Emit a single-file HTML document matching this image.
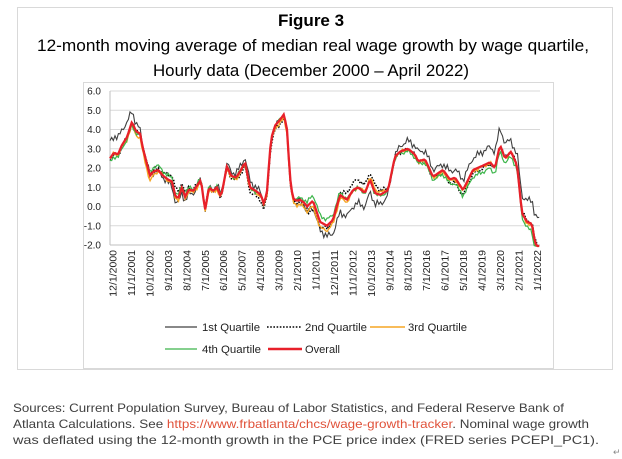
<!DOCTYPE html>
<html><head><meta charset="utf-8"><style>
body{margin:0;background:#fff;}
svg{display:block;font-family:"Liberation Sans",sans-serif;}
</style></head><body>
<svg id="s" width="622" height="459" xmlns="http://www.w3.org/2000/svg">
<rect x="17.5" y="7.5" width="595" height="362" fill="#fff" stroke="#d9d9d9"/>
<rect x="83.5" y="82.5" width="470" height="286" fill="#fff" stroke="#d9d9d9"/>
<text x="311" y="26" text-anchor="middle" font-size="17" font-weight="bold" fill="#000">Figure 3</text>
<text x="313" y="51" text-anchor="middle" font-size="17" textLength="552" lengthAdjust="spacingAndGlyphs" fill="#000">12-month moving average of median real wage growth by wage quartile,</text>
<text x="311" y="76" text-anchor="middle" font-size="17" textLength="316" lengthAdjust="spacingAndGlyphs" fill="#000">Hourly data (December 2000 – April 2022)</text>
<g id="grid"></g>
<g id="series"></g>
<g font-size="11" fill="#222">
<line x1="165" y1="327" x2="197" y2="327" stroke="#404040" stroke-width="1.2"/>
<text x="202" y="331" textLength="58" lengthAdjust="spacingAndGlyphs">1st Quartile</text>
<line x1="267" y1="327" x2="302" y2="327" stroke="#000" stroke-width="1.6" stroke-dasharray="1.6 1.6"/>
<text x="305" y="331" textLength="62" lengthAdjust="spacingAndGlyphs">2nd Quartile</text>
<line x1="370" y1="327" x2="405" y2="327" stroke="#f5a623" stroke-width="1.6"/>
<text x="408" y="331" textLength="59" lengthAdjust="spacingAndGlyphs">3rd Quartile</text>
<line x1="165" y1="349" x2="197" y2="349" stroke="#3cb54a" stroke-width="1.2"/>
<text x="202" y="353" textLength="59" lengthAdjust="spacingAndGlyphs">4th Quartile</text>
<line x1="268" y1="349" x2="302" y2="349" stroke="#e8202a" stroke-width="2.5"/>
<text x="305" y="353" textLength="35" lengthAdjust="spacingAndGlyphs">Overall</text>
</g>
<g font-size="12" fill="#404040">
<text x="13" y="412" textLength="551" lengthAdjust="spacingAndGlyphs">Sources: Current Population Survey, Bureau of Labor Statistics, and Federal Reserve Bank of</text>
<text x="13" y="428" textLength="576" lengthAdjust="spacingAndGlyphs">Atlanta Calculations. See <tspan fill="#e0523a">https://www.frbatlanta/chcs/wage-growth-tracker</tspan>. Nominal wage growth</text>
<text x="13" y="444" textLength="586" lengthAdjust="spacingAndGlyphs">was deflated using the 12-month growth in the PCE price index (FRED series PCEPI_PC1).</text>
<text x="613" y="455" font-size="9" fill="#888">↵</text>
</g>
</svg>
<script>
const NS="http://www.w3.org/2000/svg";
const X0=110,X1=540,Y=v=>245-(v+2)*19.25;
const g=document.getElementById('grid'),S=document.getElementById('series');
function el(t,a,p,txt){const e=document.createElementNS(NS,t);for(const k in a)e.setAttribute(k,a[k]);if(txt)e.textContent=txt;p.appendChild(e);return e;}
for(let v=-2;v<=6;v++){el('line',{x1:X0,x2:X1,y1:Y(v),y2:Y(v),stroke:v==-2?'#bfbfbf':'#d9d9d9','stroke-width':1},g);
 el('text',{x:101,y:Y(v)+3.5,'text-anchor':'end','font-size':10,fill:'#222'},g,v.toFixed(1));}
el('line',{x1:X0,x2:X0,y1:Y(6),y2:Y(-2),stroke:'#bfbfbf'},g);
const labs=["12/1/2000","11/1/2001","10/1/2002","9/1/2003","8/1/2004","7/1/2005","6/1/2006","5/1/2007","4/1/2008","3/1/2009","2/1/2010","1/1/2011","12/1/2011","11/1/2012","10/1/2013","9/1/2014","8/1/2015","7/1/2016","6/1/2017","5/1/2018","4/1/2019","3/1/2020","2/1/2021","1/1/2022"];
labs.forEach((l,i)=>{const x=113+i*18.45;el('text',{x:0,y:0,transform:`translate(${x+3.5},250) rotate(-90)`,'text-anchor':'end','font-size':10.5,fill:'#222'},g,l);});
const R=[[110,2.5],[114,2.8],[118,2.7],[122,3.2],[127,3.6],[132,4.4],[136,3.9],[140,3.8],[143,3.0],[146,2.4],[150,1.6],[153,1.8],[158,1.9],[163,1.6],[168,1.4],[172,1.3],[175,0.6],[178,0.4],[182,1.0],[185,0.5],[189,0.9],[193,0.8],[196,1.0],[201,1.4],[205,-0.2],[209,1.0],[213,0.8],[217,1.0],[221,0.5],[227,2.1],[231,1.6],[236,1.5],[241,1.9],[245,2.3],[250,1.0],[256,0.8],[261,0.6],[264,0.1],[267,0.8],[271,3.5],[275,4.2],[280,4.5],[284,4.8],[287,4.0],[290,1.5],[293,0.4],[297,0.3],[300,0.35],[304,0.2],[307,0.0],[313,0.3],[320,-0.8],[327,-1.0],[333,-0.7],[340,0.6],[347,0.35],[353,0.85],[358,1.0],[365,0.7],[370,1.4],[375,0.7],[380,0.6],[388,0.85],[395,2.6],[400,2.85],[408,3.0],[415,2.7],[418,2.35],[425,2.45],[433,1.55],[443,1.9],[450,1.4],[455,1.5],[463,0.85],[473,1.9],[482,2.1],[490,2.3],[495,2.0],[500,3.2],[505,2.5],[511,2.85],[517,2.15],[522,-0.35],[527,-0.8],[532,-0.9],[535,-1.9],[540,-2.3]];
function interp(P,x){for(let i=1;i<P.length;i++){if(x<=P[i][0]){const a=P[i-1],b=P[i];return a[1]+(b[1]-a[1])*(x-a[0])/(b[0]-a[0]);}}return P[P.length-1][1];}
const offB=[[110,0.9],[124,0.8],[132,0.6],[140,0.2],[150,0],[165,-0.1],[175,-0.3],[190,-0.2],[200,0],[250,0.3],[262,0.1],[270,0],[300,0],[310,-0.3],[325,-0.5],[340,-0.9],[360,-0.8],[385,-0.4],[395,0.1],[405,0.4],[420,0.5],[440,0.3],[470,0.6],[490,0.8],[500,0.9],[515,0.5],[522,0.9],[530,1.2],[540,1.6]];
const offG=[[110,-0.2],[140,-0.1],[155,0.25],[170,0.2],[190,0.1],[260,-0.05],[300,0.1],[315,0.35],[330,0.3],[350,0],[400,-0.1],[440,-0.2],[470,-0.35],[500,-0.3],[520,-0.2],[540,-0.5]];
const offO=[[110,0],[150,-0.3],[160,0],[175,-0.1],[260,-0.1],[320,-0.3],[335,-0.2],[350,-0.1],[375,0.2],[390,0],[440,-0.1],[520,0],[540,-0.2]];
const offD=[[110,-0.1],[160,0.1],[175,0.4],[190,0.1],[260,-0.3],[300,-0.1],[310,-0.4],[330,-0.1],[350,0.4],[375,0.4],[390,0],[440,-0.1],[460,-0.3],[500,0],[540,0.1]];
function noise(x,s){return Math.sin(x*1.7+s)*0.12+Math.sin(x*0.63+s*2)*0.1;}
function path(off,s,amp){let d='';for(let x=X0;x<=X1;x+=1.67){let v=interp(R,x)+(off?interp(off,x)+noise(x,s)*amp:0);v=Math.max(v,-2.05);d+=(d?'L':'M')+x.toFixed(1)+' '+Y(v).toFixed(1);}return d;}
el('path',{d:path(offB,1,1),fill:'none',stroke:'#404040','stroke-width':1.1},S);
el('path',{d:path(offD,2,0.6),fill:'none',stroke:'#000','stroke-width':1.5,'stroke-dasharray':'1.5 1.5'},S);
el('path',{d:path(offO,3,0.5),fill:'none',stroke:'#f5a623','stroke-width':1.4},S);
el('path',{d:path(offG,4,0.6),fill:'none',stroke:'#3cb54a','stroke-width':1.2},S);
el('path',{d:path(null,0,0),fill:'none',stroke:'#e8202a','stroke-width':2.3},S);
</script>
</body></html>
